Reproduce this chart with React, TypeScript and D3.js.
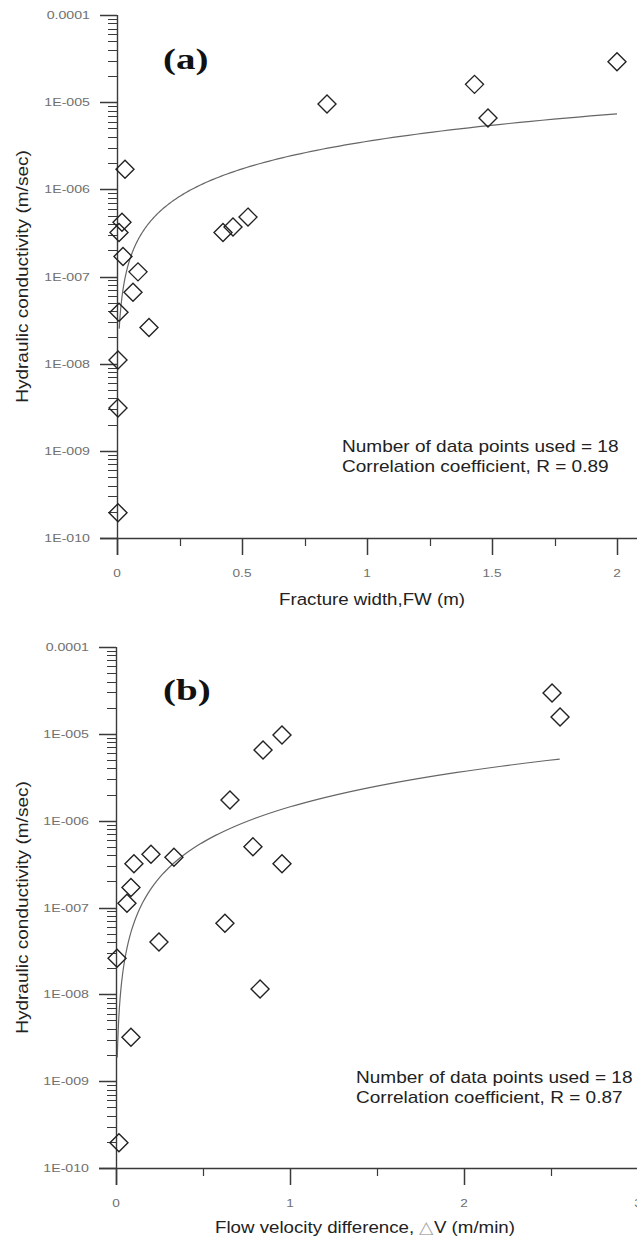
import * as d3 from "d3";

const W = 637;
const H = 1243;

// ---- panel (a): fracture width vs hydraulic conductivity
const fwValues = [2.0, 1.43, 1.484, 0.84, 0.032, 0.02, 0.008, 0.024, 0.084, 0.424, 0.464, 0.524, 0.064, 0.008, 0.128, 0.004, 0.004, 0.004];
const kValuesA = [2.9e-5, 1.6e-5, 6.6e-6, 9.5e-6, 1.7e-6, 4.2e-7, 3.2e-7, 1.7e-7, 1.13e-7, 3.2e-7, 3.7e-7, 4.8e-7, 6.6e-8, 3.9e-8, 2.6e-8, 1.1e-8, 3.1e-9, 1.95e-10];
const xTicksA = [0, 0.5, 1, 1.5, 2];
const xTickLabelsA = ["0", "0.5", "1", "1.5", "2"];
const xMinorA = [0.25, 0.75, 1.25, 1.75, 2.25];
// power-law fit K = a * FW^b
const fitA = { a: 3.55e-6, b: 1.05, from: 0.009, to: 2.0 };
const noteA = ["Number of data points used = 18", "Correlation coefficient, R = 0.89"];

// ---- panel (b): flow velocity difference vs hydraulic conductivity
const dvValues = [0.954, 0.845, 0.655, 0.787, 0.954, 0.201, 0.333, 0.103, 0.086, 0.063, 0.626, 0.247, 0.006, 0.828, 0.086, 0.017, 2.506, 2.552];
const kValuesB = [9.7e-6, 6.5e-6, 1.73e-6, 5.0e-7, 3.2e-7, 4.1e-7, 3.8e-7, 3.2e-7, 1.7e-7, 1.12e-7, 6.6e-8, 4.0e-8, 2.6e-8, 1.15e-8, 3.2e-9, 1.95e-10, 2.95e-5, 1.56e-5];
const xTicksB = [0, 1, 2, 3];
const xTickLabelsB = ["0", "1", "2", "3"];
const xMinorB = [0.5, 1.5, 2.5, 3.5];
const fitB = { a: 1.442e-6, b: 1.355, from: 0.0074, to: 2.55 };
const noteB = ["Number of data points used = 18", "Correlation coefficient, R = 0.87"];

// shared y axis
const yDecades = [1e-4, 1e-5, 1e-6, 1e-7, 1e-8, 1e-9, 1e-10];
const yTickLabels = ["0.0001", "1E-005", "1E-006", "1E-007", "1E-008", "1E-009", "1E-010"];

const SANS = "'Liberation Sans', Arial, sans-serif";
const SERIF = "'Liberation Serif', 'Times New Roman', serif";

const SText = ({ x, y, sx = 1, rot = 0, anchor = "start", size, fill, family = SANS, weight = "normal", children }: any) => (
  <text
    transform={`translate(${x},${y}) rotate(${rot}) scale(${sx},1)`}
    textAnchor={anchor}
    fontSize={size}
    fill={fill}
    fontFamily={family}
    fontWeight={weight}
  >
    {children}
  </text>
);

const Panel = ({ xs, ks, x0, xMax, xUnit, yTop, yBot, xTicks, xTickLabels, xMinor, fit, note, noteX, noteY, tag, tagY, xTitle, xTitleX, xTitleY }: any) => {
  const x = d3.scaleLinear().domain([0, xMax]).range([x0, x0 + xMax * xUnit]);
  const y = d3.scaleLog().domain([1e-10, 1e-4]).range([yBot, yTop]);
  const minorY = y.ticks().filter((v) => !yDecades.some((d) => Math.abs(v / d - 1) < 1e-6));

  const n = 200;
  const fx = d3.range(n + 1).map((i) => fit.from * Math.pow(fit.to / fit.from, i / n));
  const line = d3
    .line<number>()
    .x((v) => x(v))
    .y((v) => y(fit.a * Math.pow(v, fit.b)));

  const axisCol = "#3a3a3a";
  const majorLen = 17;
  const minorLen = 9;
  const r = 9;

  const px = (v: number) => Math.round(v) + 0.5;

  // tick marks built as path strings
  const majorPath =
    yDecades.map((d) => `M${x0 - majorLen},${px(y(d))}H${x0}`).join("") +
    xTicks.map((t: number) => `M${px(x(t))},${yBot}V${yBot + majorLen}`).join("");
  const minorPath =
    minorY.map((v) => `M${x0 - minorLen},${px(y(v))}H${x0}`).join("") +
    xMinor.map((t: number) => `M${px(x(t))},${yBot}V${yBot + 8}`).join("");

  return (
    <g>
      {/* axes */}
      <path d={`M${px(x0)},${yTop}V${yBot + majorLen}M${x0 - majorLen},${px(yBot)}H${W + 5}`} fill="none" stroke={axisCol} strokeWidth={1.4} />
      <path d={majorPath} fill="none" stroke={axisCol} strokeWidth={1.5} />
      <path d={minorPath} fill="none" stroke={axisCol} strokeWidth={1.2} />
      {yDecades.map((d, i) => (
        <SText key={"yl" + i} x={x0 - 27} y={y(d) + 4} sx={1.35} anchor="end" size={10.5} fill="#707070">
          {yTickLabels[i]}
        </SText>
      ))}
      {xTicks.map((t: number, i: number) => (
        <SText key={"xl" + i} x={x(t)} y={yBot + 39} sx={1.3} anchor="middle" size={10.5} fill="#707070">
          {xTickLabels[i]}
        </SText>
      ))}

      {/* fitted curve */}
      <path d={line(fx) || ""} fill="none" stroke="#666" strokeWidth={1.2} />

      {/* data */}
      {xs.map((v: number, i: number) => {
        const cx = x(v);
        const cy = y(ks[i]);
        return (
          <path
            key={"p" + i}
            d={`M${cx},${cy - r}L${cx + r},${cy}L${cx},${cy + r}L${cx - r},${cy}Z`}
            fill="none"
            stroke="#222"
            strokeWidth={1.4}
          />
        );
      })}

      {/* labels */}
      <SText x={163} y={tagY} sx={1.3} size={30} fill="#111" family={SERIF} weight="bold">
        {tag}
      </SText>
      <SText x={noteX} y={noteY} sx={1.12} size={17} fill="#222">
        {note[0]}
      </SText>
      <SText x={noteX} y={noteY + 20} sx={1.12} size={17} fill="#222">
        {note[1]}
      </SText>
      <SText x={28} y={(yTop + yBot) / 2} rot={-90} sx={1.12} anchor="middle" size={17} fill="#222">
        Hydraulic conductivity (m/sec)
      </SText>
      <SText x={xTitleX} y={xTitleY} sx={1.1} anchor="middle" size={17} fill="#222">
        {xTitle}
      </SText>
    </g>
  );
};

export default function App() {
  return (
    <svg width={W} height={H} style={{ position: "absolute", left: 0, top: 0, background: "#fff" }}>
      <rect width={W} height={H} fill="#fff" />
      <Panel
        xs={fwValues}
        ks={kValuesA}
        x0={117}
        xMax={2.5}
        xUnit={250}
        yTop={15}
        yBot={538}
        xTicks={xTicksA}
        xTickLabels={xTickLabelsA}
        xMinor={xMinorA}
        fit={fitA}
        note={noteA}
        noteX={342}
        noteY={452}
        tag="(a)"
        tagY={69}
        xTitle="Fracture width,FW (m)"
        xTitleX={372}
        xTitleY={605}
      />
      <Panel
        xs={dvValues}
        ks={kValuesB}
        x0={116}
        xMax={3.5}
        xUnit={174}
        yTop={647}
        yBot={1168}
        xTicks={xTicksB}
        xTickLabels={xTickLabelsB}
        xMinor={xMinorB}
        fit={fitB}
        note={noteB}
        noteX={356}
        noteY={1083}
        tag="(b)"
        tagY={700}
        xTitle={
          <>
            Flow velocity difference, <tspan fill="#aaa">△</tspan>V (m/min)
          </>
        }
        xTitleX={365}
        xTitleY={1233}
      />
    </svg>
  );
}
